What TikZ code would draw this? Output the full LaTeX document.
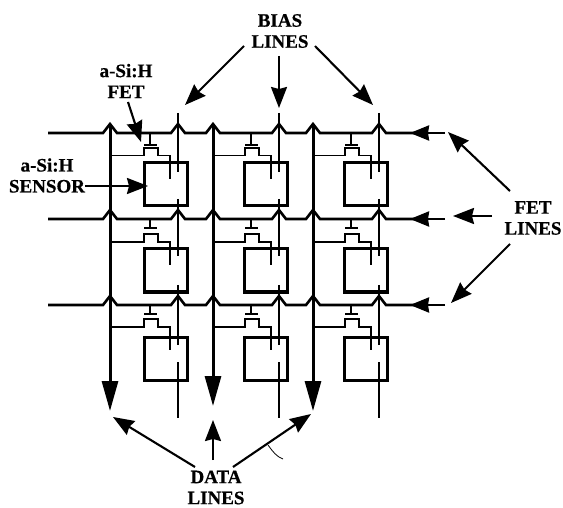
\documentclass[tikz,border=0pt]{standalone}
\usepackage{fontspec}
\setmainfont{Liberation Serif}[BoldFeatures={FakeBold=0.6}]
\usetikzlibrary{arrows.meta}
\tikzset{
  hline/.style={line width=2.6pt,line join=miter},
  dataline/.style={line width=3pt},
  biasline/.style={line width=1.9pt},
  thin wire/.style={line width=1.6pt},
  sensor/.style={draw,line width=3pt,minimum width=43pt,minimum height=43pt,inner sep=0pt,outer sep=0pt},
  lab/.style={font=\fontsize{19}{21}\selectfont\bfseries,align=center,inner sep=0pt},
  callout/.style={line width=2.1pt,-{Stealth[length=21pt,width=16pt,inset=2pt]}},
  endhead/.style={line width=3pt,-{Stealth[length=30pt,width=16pt,inset=0pt]}},
  hhead/.style={line width=2.6pt,-{Stealth[length=19pt,width=15pt,inset=1pt]}}
}
\begin{document}
\begin{tikzpicture}[x=1pt,y=-1pt]
\useasboundingbox (0,0) rectangle (563,508);
% horizontal FET lines with hops
\foreach \y/\n in {133/a,219/b,305/c}{
  \coordinate (e\n) at (445,\y);
  \coordinate (t\n) at (410,\y);
  \draw[hline] (48,\y)
    \foreach \c in {110,178,213,279,313,379}{ -- ({\c-7},\y) -- (\c,{\y-9}) -- ({\c+7},\y) } -- (415,\y);
  \draw[hhead] (e\n) -- (t\n);
}
% data lines
\foreach \n/\x/\t in {1/110/411,2/213/406,3/313/411}{
  \coordinate (dt\n) at (\x,124);
  \coordinate (db\n) at (\x,\t);
  \draw[endhead] (dt\n) -- (db\n);
}
% cells: sensor box, gate stub and plate, channel and drain
\foreach \cc/\xa/\dx/\gx in {1/165.5/110/150,2/266/213/251,3/366/313/351}{
  \foreach \rr/\ya/\yl/\pl/\ch/\wi/\bo in {1/184/133/145/148/155.5/179.5,2/270.5/219/228.5/234/242/265,3/358.5/305/314/319/327/350}{
    \node[sensor] (s\cc\rr) at (\xa,\ya) {};
    \draw[thin wire] (\gx,\yl) -- (\gx,\pl);
    \draw[line width=2pt] ({\gx-6},\pl) -- ({\gx+7},\pl);
    \draw[thin wire] (\dx,\wi) -- ({\gx-6},\wi) -- ({\gx-6},\ch) -- ({\gx+8},\ch) -- ({\gx+8},\wi) -- ({\gx+20},\wi) -- ({\gx+20},\bo);
  }
}
% bias lines
\foreach \x in {178,279,379}{
  \draw[biasline] (\x,113) -- (\x,172);
  \draw[biasline] (\x,199) -- (\x,256);
  \draw[biasline] (\x,285) -- (\x,345);
  \draw[biasline] (\x,362) -- (\x,418);
}
% labels
\node[lab] (bias) at (280,31) {BIAS\\LINES};
\node[lab] (fet) at (126,81) {a-Si:H\\FET};
\node[lab] (sen) at (47,175.5) {a-Si:H\\SENSOR};
\node[lab] (fetl) at (533,218) {FET\\LINES};
\node[lab] (data) at (216,487.5) {DATA\\LINES};
% callouts
\coordinate (b1s) at (244,46); \coordinate (b1t) at (185,105);
\coordinate (b2s) at (279,56); \coordinate (b2t) at (279,108);
\coordinate (b3s) at (315,46); \coordinate (b3t) at (373,105);
\draw[callout] (b1s) -- (b1t);
\draw[callout] (b2s) -- (b2t);
\draw[callout] (b3s) -- (b3t);
\coordinate (fs) at (128,102); \coordinate (ft) at (141,142);
\draw[callout] (fs) -- (ft);
\coordinate (ss) at (85,186); \coordinate (st) at (148,186);
\draw[callout] (ss) -- (st);
\coordinate (l1s) at (510,191); \coordinate (l1t) at (448,132);
\coordinate (l2s) at (492,216); \coordinate (l2t) at (453,216);
\coordinate (l3s) at (510,244); \coordinate (l3t) at (451,303);
\draw[callout] (l1s) -- (l1t);
\draw[callout] (l2s) -- (l2t);
\draw[callout] (l3s) -- (l3t);
\coordinate (d1s) at (195,467); \coordinate (d1t) at (113,417);
\coordinate (d2s) at (213,460); \coordinate (d2t) at (213,420);
\coordinate (d3s) at (233,467); \coordinate (d3t) at (311,414);
\draw[callout] (d1s) -- (d1t);
\draw[callout] (d2s) -- (d2t);
\draw[callout] (d3s) -- (d3t);
\draw[line width=0.8pt] (268,445) .. controls (273,452) and (277,457) .. (283,459);
\end{tikzpicture}
\end{document}
